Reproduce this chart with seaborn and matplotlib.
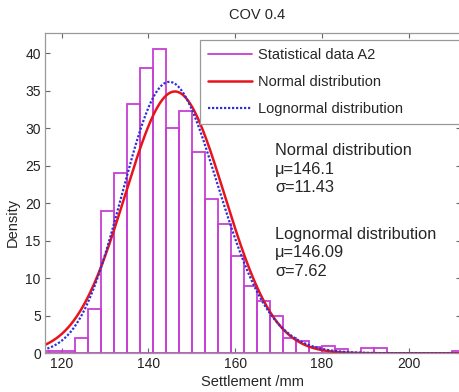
import numpy as np
import matplotlib
matplotlib.use("Agg")
import matplotlib.pyplot as plt
import seaborn as sns
from matplotlib.lines import Line2D

# histogram bins (3 mm wide) and bar heights
bin_edges = [114.1, 117.1, 120.1, 123.1, 126.1, 129.1, 132.1, 135.1, 138.1, 141.1,
             144.1, 147.1, 150.1, 153.1, 156.1, 159.1, 162.1, 165.1, 168.1, 171.1,
             174.1, 177.1, 180.1, 183.1, 186.1, 189.1, 192.1, 195.1, 198.1, 201.1,
             204.1, 207.1, 210.1, 213.1]
bar_heights = [0.3, 0.3, 0.3, 2.0, 5.9, 19.0, 24.0, 33.3, 38.0, 40.6,
               30.0, 32.3, 26.9, 20.6, 17.2, 13.0, 9.0, 7.0, 5.0, 2.1,
               1.6, 0.9, 1.0, 0.6, 0.0, 0.65, 0.65, 0.0, 0.0, 0.0,
               0.0, 0.0, 0.35]

# fitted distributions (density x 1000)
norm_mu, norm_sigma = 146.1, 11.43
logn_mean, logn_sigma_log = 146.09, 0.0759
x_ticks = [120, 140, 160, 180, 200]
y_ticks = [0, 5, 10, 15, 20, 25, 30, 35, 40]

hist_color = "#c640d4"
norm_color = "#e8141b"
logn_color = "#3030d8"

sns.set_style("ticks")
plt.rcParams["font.family"] = ["Liberation Sans", "DejaVu Sans"]

fig = plt.figure(figsize=(4.59, 3.92), dpi=100)
ax = fig.add_axes([45 / 459, 1 - 353.3 / 392, 416 / 459, (353.3 - 33) / 392])

centers = [(a + b) / 2 for a, b in zip(bin_edges[:-1], bin_edges[1:])]
sns.histplot(x=centers, weights=bar_heights, bins=bin_edges, fill=False,
             element="bars", color=hist_color, linewidth=1.3, ax=ax)

xs = np.linspace(114, 214, 600)
norm_y = 1000 * np.exp(-0.5 * ((xs - norm_mu) / norm_sigma) ** 2) / (norm_sigma * np.sqrt(2 * np.pi))
mu_log = np.log(logn_mean) - logn_sigma_log ** 2 / 2
logn_y = 1000 * np.exp(-0.5 * ((np.log(xs) - mu_log) / logn_sigma_log) ** 2) / (xs * logn_sigma_log * np.sqrt(2 * np.pi))

sns.lineplot(x=xs, y=norm_y, color=norm_color, linewidth=1.8, ax=ax)
sns.lineplot(x=xs, y=logn_y, color=logn_color, linewidth=1.6, linestyle=(0, (1, 0.8)), ax=ax)

ax.set_xlim(116.15, 212.1)
ax.set_ylim(0, 42.7)
ax.set_xticks(x_ticks)
ax.set_yticks(y_ticks)
ax.tick_params(direction="in", length=3.5, width=0.8, color="#666666", labelsize=10,
               labelcolor="#222222", top=True, right=True, bottom=True, left=True, pad=3)
for s in ax.spines.values():
    s.set_color("#999999")
    s.set_linewidth(0.9)
ax.set_xlabel("")
ax.set_ylabel("")

fig.text(257 / 459, 1 - 15 / 392, "COV 0.4", ha="center", va="center", fontsize=10.5)
fig.text(253 / 459, 1 - 382 / 392, "Settlement /mm", ha="center", va="center", fontsize=10.5)
fig.text(13 / 459, 1 - 222 / 392, "Density", ha="center", va="center", rotation=90, fontsize=10.5)

ax.text(169.2, 28.0, "Normal distribution\nμ=146.1\nσ=11.43", ha="left", va="top",
        fontsize=11.8, linespacing=1.3)
ax.text(169.2, 16.9, "Lognormal distribution\nμ=146.09\nσ=7.62", ha="left", va="top",
        fontsize=11.8, linespacing=1.3)

handles = [Line2D([], [], color=hist_color, linewidth=1.3),
           Line2D([], [], color=norm_color, linewidth=1.8),
           Line2D([], [], color=logn_color, linewidth=1.6, linestyle=(0, (1, 0.8)))]
labels = ["Statistical data A2", "Normal distribution", "Lognormal distribution"]
leg = ax.legend(handles, labels, loc="upper left", mode="expand",
                bbox_to_anchor=(200 / 459, 1 - 122 / 392, 270 / 459, 82 / 392),
                bbox_transform=fig.transFigure, fontsize=10.5, frameon=True,
                fancybox=False, framealpha=1, edgecolor="#999999", borderaxespad=0,
                handlelength=3.0, handletextpad=0.4, labelspacing=0.9, borderpad=0.55)
leg.get_frame().set_linewidth(0.9)

fig.savefig("out.png", dpi=100)
